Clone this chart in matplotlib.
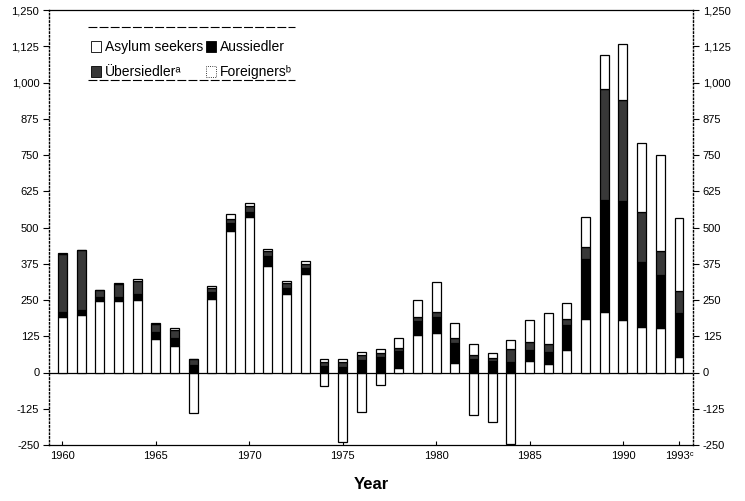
import numpy as np
import matplotlib
matplotlib.use("Agg")
import matplotlib.pyplot as plt
from matplotlib.lines import Line2D
from matplotlib.patches import Patch
from matplotlib.ticker import FuncFormatter

plt.rcParams['font.family'] = ['Liberation Sans', 'DejaVu Sans']

# net migration components, thousands
years = list(range(1960, 1994))
foreigners = [190, 198, 246, 247, 250, 115, 91, -141, 253, 487,
              536, 368, 269, 338, -47, -241, -136, -42, 15, 129,
              135, 33, -145, -170, -245, 39, 28, 79, 186, 210,
              182, 157, 152, 55]
aussiedler = [20, 17, 16, 15, 20, 24, 28, 26, 23, 30,
              19, 33, 23, 23, 24, 20, 44, 54, 58, 50,
              56, 69, 48, 38, 37, 40, 43, 84, 205, 386,
              409, 224, 183, 150]
uebersiedler = [199, 207, 21, 43, 47, 29, 29, 19, 16, 14,
                18, 18, 17, 13, 13, 16, 15, 12, 13, 13,
                16, 16, 14, 11, 45, 27, 27, 21, 43, 381,
                350, 172, 83, 75]
asylum = [3, 2, 3, 4, 4, 4, 4, 0, 8, 16,
          10, 8, 8, 9, 10, 9, 11, 16, 34, 57,
          106, 53, 36, 19, 31, 74, 106, 55, 103, 118,
          191, 237, 332, 254]

xtick_years = [1960, 1965, 1970, 1975, 1980, 1985, 1990, 1993]
xtick_labels = ['1960', '1965', '1970', '1975', '1980', '1985', '1990', '1993ᶜ']
yticks = np.arange(-250, 1251, 125)

x = np.array(years)
f = np.array(foreigners)
a = np.array(aussiedler)
u = np.array(uebersiedler)
s = np.array(asylum)

fig = plt.figure(figsize=(7.45, 5.01), dpi=100)
ax = fig.add_axes([49 / 745, 1 - 445 / 501, (693 - 49) / 745, (445 - 10) / 501])

w = 0.48
ec = 'black'
lw = 0.9
ub_color = '#383838'
base = np.maximum(f, 0)
ax.bar(x, f, width=w, color='white', edgecolor=ec, linewidth=lw, zorder=2)
ax.bar(x, a, width=w, bottom=base, color='black', edgecolor=ec, linewidth=lw, zorder=2)
ax.bar(x, u, width=w, bottom=base + a, color=ub_color, edgecolor=ec, linewidth=lw, zorder=2)
ax.bar(x, s, width=w, bottom=base + a + u, color='white', edgecolor=ec, linewidth=lw, zorder=2)

ax.axhline(0, color='black', linewidth=0.9, zorder=1)

ax.set_xlim(1959.28, 1993.75)
ax.set_ylim(-250, 1250)
ax.set_yticks(yticks)
ax.yaxis.set_major_formatter(FuncFormatter(lambda v, p: f'{int(v):,}'))
ax.tick_params(axis='y', which='both', left=True, right=True, labelleft=True, labelright=True,
               direction='out', length=4, width=0.8, labelsize=8, pad=3)
ax.set_xticks(xtick_years)
ax.set_xticklabels(xtick_labels)
ax.tick_params(axis='x', direction='in', length=3, width=0.8, labelsize=8, pad=4)

for side in ['left', 'right']:
    ax.spines[side].set_linestyle(':')
    ax.spines[side].set_linewidth(1.0)
for side in ['top', 'bottom']:
    ax.spines[side].set_linewidth(0.9)

ax.set_xlabel('Year', fontsize=12, fontweight='heavy', labelpad=12)

handles = [Patch(facecolor='white', edgecolor='black', linewidth=0.6),
           Patch(facecolor=ub_color, edgecolor='black', linewidth=0.6),
           Patch(facecolor='black', edgecolor='black', linewidth=0.6),
           Patch(facecolor='white', edgecolor='black', linewidth=0.6, linestyle=':')]
labels = ['Asylum seekers', 'Übersiedlerᵃ', 'Aussiedler', 'Foreignersᵇ']
leg = ax.legend(handles, labels, ncol=2, frameon=False, fontsize=10,
                loc='upper left', bbox_to_anchor=(31 / 644, 1 - 19 / 435),
                handlelength=0.7, handleheight=0.9, handletextpad=0.3,
                columnspacing=0.2, labelspacing=0.8, borderpad=0.3)

# dashed rules above and below the legend
for yy in [27, 80]:
    fig.add_artist(Line2D([88 / 745, 295 / 745], [1 - yy / 501, 1 - yy / 501],
                          color='black', linewidth=0.8, linestyle=(0, (8, 2))))

fig.savefig('out.png', dpi=100)
